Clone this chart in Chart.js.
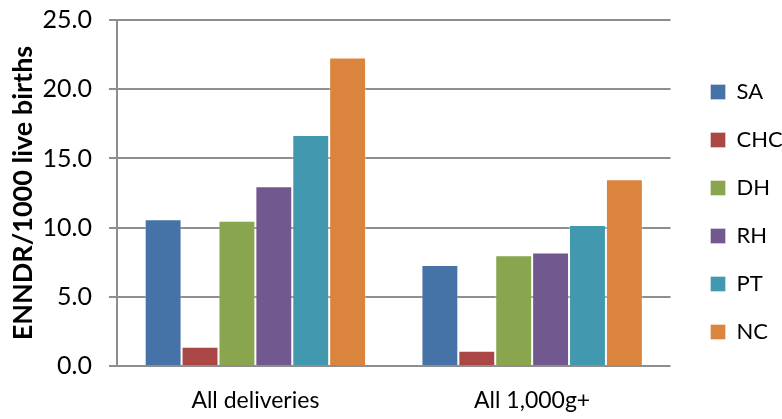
<!DOCTYPE html>
<html><head><meta charset="utf-8">
<script src="https://cdn.jsdelivr.net/npm/chart.js@4"></script>
<style>html,body{margin:0;padding:0;background:#fff}#wrap{width:782px;height:419px;position:relative}</style>
</head><body><div id="wrap"><canvas id="c"></canvas></div>
<script>
const categories = ["All deliveries", "All 1,000g+"];
const seriesNames = ["SA", "CHC", "DH", "RH", "PT", "NC"];
const SA  = [10.6, 7.3];
const CHC = [1.4, 1.1];
const DH  = [10.5, 8.0];
const RH  = [13.0, 8.2];
const PT  = [16.7, 10.2];
const NC  = [22.3, 13.5];
const yTicks = [0, 5, 10, 15, 20, 25];
const yTitle = "ENNDR/1000 live births";

const colors = ["#4572A7", "#AA4643", "#89A54E", "#71588F", "#4198AF", "#DB843D"];
const seriesData = [SA, CHC, DH, RH, PT, NC];
const FONT = "Lato, 'Liberation Sans', sans-serif";

const legendShift = {
  id: 'legendShift',
  afterUpdate(chart) {
    const l = chart.legend;
    if (l) { l.left += 14; l.right += 14; l.top -= 7; l.bottom -= 7; }
  }
};

new Chart(document.getElementById('c'), {
  type: 'bar',
  plugins: [legendShift],
  data: {
    labels: categories,
    datasets: seriesNames.map((n, i) => ({
      label: n, data: seriesData[i], backgroundColor: colors[i],
      borderColor: 'rgba(255,255,255,0.35)', borderWidth: 1,
      categoryPercentage: 0.8, barPercentage: 1.0
    }))
  },
  options: {
    responsive: true, maintainAspectRatio: false, animation: false, devicePixelRatio: 1,
    layout: { padding: { top: 2, right: 3.3, bottom: -17, left: 3.8 } },
    plugins: {
      tooltip: { enabled: false },
      legend: {
        position: 'right',
        labels: { color: '#000', font: { family: FONT, size: 22 }, boxWidth: 15, boxHeight: 15, padding: 26 }
      }
    },
    scales: {
      x: {
        grid: { display: false, drawTicks: false },
        border: { display: false },
        ticks: { color: '#000', font: { family: FONT, size: 23 }, padding: 21.2 }
      },
      y: {
        min: 0, max: 25,
        afterBuildTicks: (ax) => { ax.ticks = yTicks.map(v => ({ value: v })); },
        grid: { color: '#8e8e8e', lineWidth: 2, tickLength: 8, drawTicks: true },
        border: { color: '#8e8e8e', width: 2 },
        ticks: { color: '#000', font: { family: FONT, size: 25, lineHeight: 0.25 }, padding: 17, callback: v => Number(v).toFixed(1) },
        title: { display: true, text: yTitle, color: '#000', font: { family: FONT, size: 27, weight: 'bold', lineHeight: 1.2 }, padding: { top: 3, bottom: -13.6 } }
      }
    }
  }
});
</script></body></html>
